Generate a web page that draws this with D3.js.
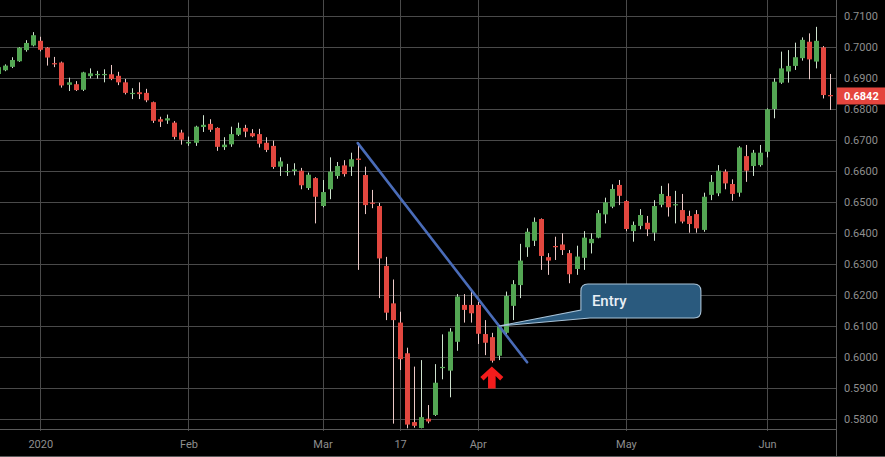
<!DOCTYPE html>
<html><head><meta charset="utf-8">
<script src="https://cdn.jsdelivr.net/npm/d3@7"></script>
<style>html,body{margin:0;padding:0;background:#000;overflow:hidden}</style>
</head><body><svg id="c" width="885" height="457"></svg>
<script>
// ---- data ----
const startIndex = -6; // first candle's bar index relative to the "2020" bar
const opens = [
0.6913,0.6925,0.6936,0.6954,0.6990,0.7005,
0.7020,0.6998,0.6948,0.6950,0.6878,0.6880,0.6862,0.6906,0.6910,0.6910,
0.6912,0.6907,0.6886,0.6849,0.6854,0.6852,0.6822,0.6767,0.6763,0.6756,
0.6724,0.6689,0.6691,0.6742,0.6752,0.6739,0.6677,0.6686,0.6717,0.6739,
0.6722,0.6719,0.6691,0.6681,0.6614,0.6598,0.6600,0.6601,0.6545,0.6577,
0.6487,0.6541,0.6584,0.6618,0.6614,0.6640,0.6587,0.6498,0.6487,0.6294,
0.6173,0.6111,0.6012,0.5790,0.5771,0.5801,0.5813,0.5965,0.5956,0.6049,
0.6168,0.6168,0.6168,0.6074,0.6064,0.6004,0.6078,0.6165,0.6232,0.6354,
0.6375,0.6445,0.6322,0.6358,0.6363,0.6335,0.6284,0.6320,0.6367,0.6385,
0.6460,0.6485,0.6555,0.6503,0.6406,0.6423,0.6433,0.6401,0.6491,0.6519,
0.6490,0.6474,0.6455,0.6461,0.6410,0.6523,0.6528,0.6598,0.6558,0.6530,
0.6648,0.6616,0.6619,0.6662,0.6800,0.6885,0.6921,0.6939,0.6964,0.7017,
0.6953,0.6999,0.6845];
const highs = [
0.6940,0.6944,0.6967,0.7000,0.7022,0.7048,
0.7033,0.7000,0.6968,0.6953,0.6901,0.6890,0.6920,0.6931,0.6923,0.6928,
0.6942,0.6920,0.6897,0.6867,0.6886,0.6865,0.6824,0.6775,0.6782,0.6761,
0.6733,0.6711,0.6746,0.6780,0.6767,0.6741,0.6709,0.6743,0.6756,0.6749,
0.6735,0.6736,0.6709,0.6698,0.6644,0.6623,0.6625,0.6610,0.6595,0.6580,
0.6571,0.6644,0.6629,0.6635,0.6659,0.6689,0.6614,0.6539,0.6497,0.6323,
0.6250,0.6146,0.6030,0.5969,0.5990,0.5845,0.5977,0.6073,0.6093,0.6203,
0.6203,0.6211,0.6178,0.6119,0.6078,0.6102,0.6211,0.6248,0.6365,0.6415,
0.6450,0.6447,0.6335,0.6388,0.6399,0.6345,0.6359,0.6406,0.6399,0.6474,
0.6514,0.6557,0.6571,0.6506,0.6437,0.6477,0.6455,0.6506,0.6552,0.6560,
0.6536,0.6526,0.6472,0.6474,0.6530,0.6587,0.6619,0.6605,0.6573,0.6680,
0.6684,0.6668,0.6684,0.6802,0.6899,0.6985,0.6990,0.7014,0.7031,0.7044,
0.7065,0.7003,0.6913];
const lows = [
0.6908,0.6922,0.6932,0.6952,0.6985,0.7002,
0.6986,0.6940,0.6935,0.6869,0.6858,0.6858,0.6858,0.6899,0.6898,0.6886,
0.6893,0.6877,0.6847,0.6832,0.6832,0.6822,0.6755,0.6742,0.6752,0.6702,
0.6685,0.6681,0.6681,0.6726,0.6726,0.6665,0.6668,0.6678,0.6713,0.6709,
0.6709,0.6676,0.6661,0.6607,0.6584,0.6584,0.6586,0.6541,0.6539,0.6431,
0.6483,0.6509,0.6575,0.6582,0.6584,0.6281,0.6461,0.6480,0.6190,0.6119,
0.5785,0.5958,0.5770,0.5772,0.5770,0.5786,0.5810,0.5928,0.5870,0.6020,
0.6111,0.6111,0.6042,0.6006,0.5982,0.5990,0.6074,0.6119,0.6190,0.6323,
0.6358,0.6281,0.6265,0.6313,0.6329,0.6238,0.6265,0.6281,0.6334,0.6383,
0.6431,0.6480,0.6490,0.6406,0.6372,0.6412,0.6390,0.6375,0.6483,0.6453,
0.6431,0.6431,0.6401,0.6401,0.6404,0.6506,0.6519,0.6541,0.6504,0.6517,
0.6565,0.6584,0.6614,0.6644,0.6770,0.6881,0.6885,0.6926,0.6956,0.6896,
0.6931,0.6834,0.6797];
const closes = [
0.6935,0.6940,0.6958,0.6998,0.7013,0.7038,
0.6991,0.6966,0.6944,0.6876,0.6886,0.6861,0.6918,0.6915,0.6913,0.6913,
0.6897,0.6886,0.6852,0.6852,0.6848,0.6828,0.6762,0.6759,0.6770,0.6710,
0.6701,0.6694,0.6743,0.6749,0.6733,0.6678,0.6685,0.6719,0.6739,0.6727,
0.6712,0.6688,0.6668,0.6613,0.6631,0.6600,0.6605,0.6554,0.6588,0.6517,
0.6532,0.6598,0.6616,0.6590,0.6638,0.6636,0.6490,0.6496,0.6318,0.6143,
0.6119,0.5993,0.5782,0.5778,0.5806,0.5792,0.5917,0.5968,0.6082,0.6195,
0.6152,0.6141,0.6075,0.6046,0.5988,0.6099,0.6197,0.6235,0.6311,0.6404,
0.6436,0.6326,0.6311,0.6355,0.6345,0.6267,0.6324,0.6385,0.6381,0.6464,
0.6499,0.6542,0.6520,0.6413,0.6426,0.6458,0.6412,0.6487,0.6526,0.6483,
0.6493,0.6437,0.6429,0.6415,0.6517,0.6565,0.6601,0.6560,0.6526,0.6676,
0.6601,0.6659,0.6659,0.6799,0.6888,0.6931,0.6939,0.6967,0.7023,0.6960,
0.7020,0.6845,0.6842];

const priceTickValues = [0.58,0.59,0.60,0.61,0.62,0.63,0.64,0.65,0.66,0.67,0.68,0.69,0.70,0.71];
const priceTickLabels = ["0.5800","0.5900","0.6000","0.6100","0.6200","0.6300","0.6400","0.6500","0.6600","0.6700","0.6800","0.6900","0.7000","0.7100"];
const timeTickLabels = ["2020","Feb","Mar","17","Apr","May","Jun"];
const timeTickIndex  = [0, 21, 40, 51, 62, 83, 103];

const trendLine = [{i:45, p:0.6690}, {i:69, p:0.5983}];
const entryPoint = {i:65, p:0.6100, label:"Entry"};
const signalArrow = {i:64, p:0.5969};

// ---- layout ----
const W = 885, H = 457, paneRight = 836, paneBottom = 429;
const svg = d3.select("#c");
svg.append("rect").attr("width", W).attr("height", H).attr("fill", "#000");

const x = d3.scaleLinear().domain([0, 103]).range([40.3, 767]);
const y = d3.scaleLinear().domain([0.58, 0.71]).range([419, 16]);

const gridColor = "#4a4a4a";
const textColor = "#8e8e8e";
const font = "Roboto, 'Liberation Sans', sans-serif";

// grid
const grid = svg.append("g");
grid.selectAll("line.h").data(priceTickValues).join("line")
  .attr("x1", 0).attr("x2", paneRight)
  .attr("y1", d => Math.round(y(d)) + 0.5).attr("y2", d => Math.round(y(d)) + 0.5)
  .attr("stroke", gridColor).attr("stroke-width", 1);
grid.selectAll("line.v").data(timeTickIndex).join("line")
  .attr("x1", d => Math.round(x(d)) + 0.5).attr("x2", d => Math.round(x(d)) + 0.5)
  .attr("y1", 0).attr("y2", paneBottom + 2)
  .attr("stroke", gridColor).attr("stroke-width", 1);

// frame lines
svg.append("line").attr("x1", 0).attr("x2", paneRight).attr("y1", paneBottom + 0.5).attr("y2", paneBottom + 0.5)
  .attr("stroke", "#5a5a5a");
svg.append("line").attr("x1", paneRight + 0.5).attr("x2", paneRight + 0.5).attr("y1", 0).attr("y2", H)
  .attr("stroke", "#5a5a5a");
svg.append("line").attr("x1", 0).attr("x2", W).attr("y1", H - 0.5).attr("y2", H - 0.5)
  .attr("stroke", "#5a5a5a");

// axes (labels only)
const yAxis = d3.axisRight(y).tickValues(priceTickValues)
  .tickFormat((d, i) => priceTickLabels[i]).tickSize(0).tickPadding(8);
const gy = svg.append("g").attr("transform", `translate(${paneRight},0)`).call(yAxis);
gy.select(".domain").remove();
gy.selectAll("text").attr("fill", textColor).style("font", `11px ${font}`);

const xAxis = d3.axisBottom(x).tickValues(timeTickIndex)
  .tickFormat((d, i) => timeTickLabels[i]).tickSize(0).tickPadding(11);
const gx = svg.append("g").attr("transform", `translate(0,${paneBottom})`).call(xAxis);
gx.select(".domain").remove();
gx.selectAll("text").attr("fill", textColor).style("font", `11px ${font}`);

// candles
const candles = opens.map((o, k) => ({i: startIndex + k, o, h: highs[k], l: lows[k], c: closes[k]}));
svg.append("defs").append("clipPath").attr("id", "pane")
  .append("rect").attr("x", 0).attr("y", 0).attr("width", paneRight).attr("height", paneBottom);
const pane = svg.append("g").attr("clip-path", "url(#pane)");
const upColor = "#53a653", downColor = "#e2473f";
const upWick = "#cfe3cf", downWick = "#ecc9c7";
const cg = pane.selectAll("g.candle").data(candles).join("g").attr("class", "candle");
cg.append("line")
  .attr("x1", d => Math.round(x(d.i)) + 0.5).attr("x2", d => Math.round(x(d.i)) + 0.5)
  .attr("y1", d => y(d.h)).attr("y2", d => y(d.l))
  .attr("stroke", d => d.c >= d.o ? upWick : downWick).attr("stroke-width", 1);
cg.append("rect")
  .attr("x", d => Math.round(x(d.i)) - 2)
  .attr("width", 5)
  .attr("y", d => y(Math.max(d.o, d.c)))
  .attr("height", d => Math.max(1.2, Math.abs(y(d.o) - y(d.c))))
  .attr("fill", d => d.c >= d.o ? upColor : downColor);

// trend line
pane.append("line")
  .attr("x1", x(trendLine[0].i)).attr("y1", y(trendLine[0].p))
  .attr("x2", x(trendLine[1].i)).attr("y2", y(trendLine[1].p))
  .attr("stroke", "#4a6cb8").attr("stroke-width", 2.6).attr("stroke-linecap", "round");

// signal arrow
const ax = x(signalArrow.i), ay = y(signalArrow.p);
pane.append("path")
  .attr("d", "M0,0 L11.5,10.5 L8.3,14 L3.8,9.5 L3.8,22 L-3.8,22 L-3.8,9.5 L-8.3,14 L-11.5,10.5 Z")
  .attr("transform", `translate(${ax},${ay})`)
  .attr("fill", "#f41c1c");

// entry callout
const px = x(entryPoint.i), py = y(entryPoint.p);
const bl = px + 82, bt = py - 42, bw = 120, bh = 34, r = 7;
const br = bl + bw, bb = bt + bh;
const calloutPath = `M${bl + r},${bt} H${br - r} Q${br},${bt} ${br},${bt + r} V${bb - r} Q${br},${bb} ${br - r},${bb} H${bl + 9} L${px},${py} L${bl},${bt + 26} V${bt + r} Q${bl},${bt} ${bl + r},${bt} Z`;
svg.append("path").attr("d", calloutPath)
  .attr("fill", "#2a5a7e").attr("stroke", "#a8c3d8").attr("stroke-width", 1.1);
svg.append("text").attr("x", bl + 11).attr("y", bt + 22)
  .attr("fill", "#e9eff5").style("font", `500 15px ${font}`).text(entryPoint.label);

// last price label
const last = closes[closes.length - 1];
const ly = y(last);
svg.append("rect").attr("x", paneRight + 1).attr("y", ly - 8.5).attr("width", W - paneRight - 1).attr("height", 17)
  .attr("fill", "#e5453e");
svg.append("text").attr("x", paneRight + 8).attr("y", ly).attr("dy", "0.35em")
  .attr("fill", "#ffffff").style("font", `bold 11px ${font}`).text(d3.format(".4f")(last));
</script>
</body></html>
